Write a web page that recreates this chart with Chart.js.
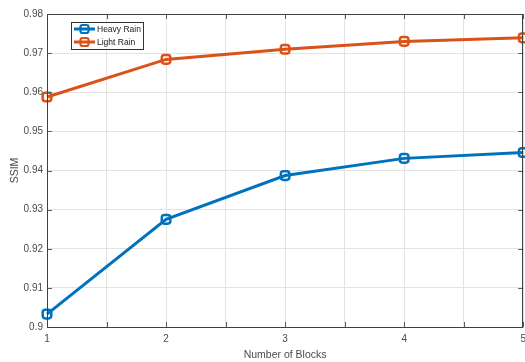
<!DOCTYPE html>
<html>
<head>
<meta charset="utf-8">
<script src="https://cdn.jsdelivr.net/npm/chart.js@4.4.1/dist/chart.umd.min.js"></script>
<style>
  html, body { margin: 0; padding: 0; background: #ffffff; overflow: hidden; }
  #wrap { width: 525px; height: 362px; position: relative; overflow: hidden; }
  #chart { position: absolute; left: 0; top: 0; }
</style>
</head>
<body>
<div id="wrap"><canvas id="chart" width="532" height="362"></canvas></div>
<script>
// Number of blocks on the x axis
const blocks = [1, 2, 3, 4, 5];
// SSIM per number of blocks
const heavyRain = [0.9033, 0.9275, 0.9387, 0.9431, 0.9446];
const lightRain = [0.9588, 0.9684, 0.9710, 0.9730, 0.9739];
const seriesNames = ['Heavy Rain', 'Light Rain'];
const seriesColors = ['#0072BD', '#D95319'];
const yTicks = [0.90, 0.91, 0.92, 0.93, 0.94, 0.95, 0.96, 0.97, 0.98];

const FONT = 'Liberation Sans, Arial, Helvetica, sans-serif';
const TEXT = '#4a4a4a';

function toPoints(values) {
  return blocks.map((b, i) => ({ x: b, y: values[i] }));
}

// Frame around the plot area with inward tick marks on all four sides
const boxPlugin = {
  id: 'boxFrame',
  afterDatasetsDraw(chart) {
    const { ctx, chartArea: a, scales } = chart;
    ctx.save();
    ctx.lineWidth = 1;
    ctx.strokeStyle = '#5a5a5a';
    const tl = 5;
    ctx.beginPath();
    scales.x.ticks.forEach(t => {
      const px = Math.round(scales.x.getPixelForValue(t.value)) + 0.5;
      ctx.moveTo(px, a.bottom); ctx.lineTo(px, a.bottom - tl);
      ctx.moveTo(px, a.top); ctx.lineTo(px, a.top + tl);
    });
    scales.y.ticks.forEach(t => {
      const py = Math.round(scales.y.getPixelForValue(t.value)) + 0.5;
      ctx.moveTo(a.left, py); ctx.lineTo(a.left + tl, py);
      ctx.moveTo(a.right, py); ctx.lineTo(a.right - tl, py);
    });
    ctx.stroke();
    ctx.strokeStyle = '#404040';
    ctx.strokeRect(Math.round(a.left) + 0.5, Math.round(a.top) + 0.5,
                   Math.round(a.right - a.left) - 1, Math.round(a.bottom - a.top));
    ctx.restore();
  }
};

// Legend box inside the upper-left of the plot area
const insetLegend = {
  id: 'insetLegend',
  afterDraw(chart) {
    const { ctx, chartArea: a } = chart;
    const x0 = a.left + 24, y0 = a.top + 8, w = 72, h = 27;
    ctx.save();
    ctx.fillStyle = '#ffffff';
    ctx.fillRect(x0, y0, w, h);
    ctx.strokeStyle = '#333333';
    ctx.lineWidth = 1;
    ctx.strokeRect(x0 + 0.5, y0 + 0.5, w, h);
    ctx.font = '8.5px ' + FONT;
    ctx.textBaseline = 'middle';
    chart.data.datasets.forEach((ds, i) => {
      const cy = y0 + 7 + i * 13;
      ctx.strokeStyle = ds.borderColor;
      ctx.lineWidth = 3;
      ctx.beginPath();
      ctx.moveTo(x0 + 3, cy); ctx.lineTo(x0 + 24, cy);
      ctx.stroke();
      ctx.lineWidth = 2.2;
      ctx.beginPath();
      ctx.roundRect(x0 + 9.5, cy - 4, 8, 8, 2);
      ctx.stroke();
      ctx.fillStyle = '#1a1a1a';
      ctx.fillText(ds.label, x0 + 26, cy + 0.5);
    });
    ctx.restore();
  }
};

const datasets = [heavyRain, lightRain].map((vals, i) => ({
  label: seriesNames[i],
  data: toPoints(vals),
  borderColor: seriesColors[i],
  backgroundColor: 'rgba(0,0,0,0)',
  borderWidth: 3,
  pointStyle: 'rectRounded',
  pointRadius: 5,
  pointBorderWidth: 2.5,
  pointBackgroundColor: 'rgba(0,0,0,0)',
  pointBorderColor: seriesColors[i],
  tension: 0,
  clip: false
}));

new Chart(document.getElementById('chart'), {
  type: 'line',
  data: { datasets },
  options: {
    responsive: false,
    animation: false,
    events: [],
    layout: { padding: { top: 14, right: 1, left: 0, bottom: 0 } },
    plugins: { legend: { display: false }, tooltip: { enabled: false } },
    scales: {
      x: {
        type: 'linear',
        min: 1, max: 5,
        afterBuildTicks(scale) {
          const t = [];
          for (let v = 1; v <= 5.0001; v += 0.5) t.push({ value: Math.round(v * 2) / 2 });
          scale.ticks = t;
        },
        afterFit(scale) {
          scale.height = 35;
        },
        border: { display: false },
        grid: { color: '#e3e3e3', lineWidth: 1, drawTicks: false },
        ticks: {
          autoSkip: false,
          maxRotation: 0,
          padding: 6,
          color: TEXT,
          font: { family: FONT, size: 10 },
          callback: v => (Number.isInteger(v) ? String(v) : '')
        },
        title: {
          display: true,
          text: 'Number of Blocks',
          color: TEXT,
          font: { family: FONT, size: 10.5 },
          padding: { top: 2, bottom: 1 }
        }
      },
      y: {
        type: 'linear',
        min: 0.9, max: 0.98,
        afterBuildTicks(scale) {
          scale.ticks = yTicks.map(v => ({ value: v }));
        },
        afterFit(scale) {
          scale.width = 47;
        },
        border: { display: false },
        grid: { color: '#e3e3e3', lineWidth: 1, drawTicks: false },
        ticks: {
          autoSkip: false,
          padding: 4,
          color: TEXT,
          font: { family: FONT, size: 10 },
          callback: v => (Math.abs(v - 0.9) < 1e-9 ? '0.9' : v.toFixed(2))
        },
        title: {
          display: true,
          text: 'SSIM',
          color: TEXT,
          font: { family: FONT, size: 10.5 },
          padding: { top: 9, bottom: 0 }
        }
      }
    }
  },
  plugins: [boxPlugin, insetLegend]
});
</script>
</body>
</html>
